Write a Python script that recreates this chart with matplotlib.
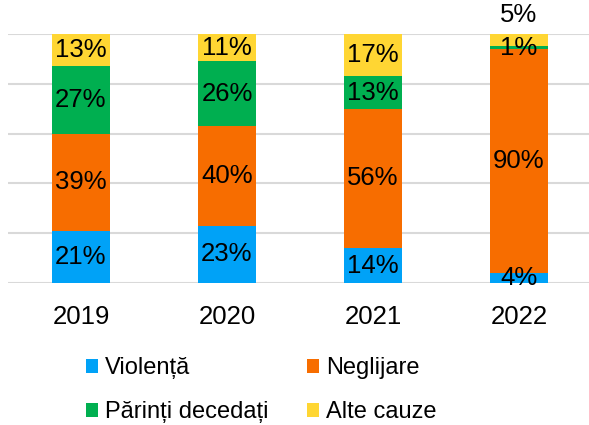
import matplotlib
matplotlib.use("Agg")
import matplotlib.pyplot as plt
from matplotlib.patches import Patch
import numpy as np

plt.rcParams['font.family'] = ['Liberation Sans', 'DejaVu Sans']

years = ["2019", "2020", "2021", "2022"]
series_names = ["Violență", "Neglijare", "Părinți decedați", "Alte cauze"]
violenta = [21, 23, 14, 4]
neglijare = [39, 40, 56, 90]
parinti = [27, 26, 13, 1]
alte = [13, 11, 17, 5]
colors = ["#00A2F7", "#F76D00", "#00AF50", "#FFD633"]

fig = plt.figure(figsize=(5.89, 4.25), dpi=100)
ax = fig.add_axes([8/589, 142/425, 584/589, 249/425])

x = np.arange(len(years))
data = [violenta, neglijare, parinti, alte]
bottom = np.zeros(len(years))
for vals, col, name in zip(data, colors, series_names):
    vals = np.array(vals, dtype=float)
    ax.bar(x, vals, width=0.4, bottom=bottom, color=col, label=name, zorder=3)
    for i, v in enumerate(vals):
        if years[i] == "2022" and name == "Alte cauze":
            ax.annotate(f"{int(v)}%", (x[i], 100), xytext=(0, 13.5), textcoords="offset points",
                        ha="center", va="center", fontsize=18.5, annotation_clip=False)
        else:
            ax.text(x[i], bottom[i] + v / 2, f"{int(v)}%", ha="center", va="center",
                    fontsize=18.5, zorder=4)
    bottom += vals

ax.set_xlim(-0.5, 3.5)
ax.set_ylim(0, 100)
ax.set_yticks([0, 20, 40, 60, 80, 100])
ax.yaxis.grid(True, color="#D9D9D9", linewidth=1.5, zorder=0)
ax.set_axisbelow(True)
ax.tick_params(axis="y", left=False, labelleft=False)
ax.tick_params(axis="x", bottom=False, labelsize=18.5, pad=12)
ax.set_xticks(x)
ax.set_xticklabels(years)
for s in ["top", "right", "left", "bottom"]:
    ax.spines[s].set_visible(False)

handles = [Patch(facecolor=c, edgecolor="none") for c in colors]
order = [0, 2, 1, 3]
fig.legend([handles[i] for i in order], [series_names[i] for i in order],
           loc="upper left", bbox_to_anchor=(86/589, 1 - 357/425),
           ncol=2, frameon=False, fontsize=17, handlelength=0.5, handleheight=0.55,
           handletextpad=0.3, columnspacing=1.65, labelspacing=0.95, borderaxespad=0,
           borderpad=0)

fig.savefig("out.png", dpi=100)
